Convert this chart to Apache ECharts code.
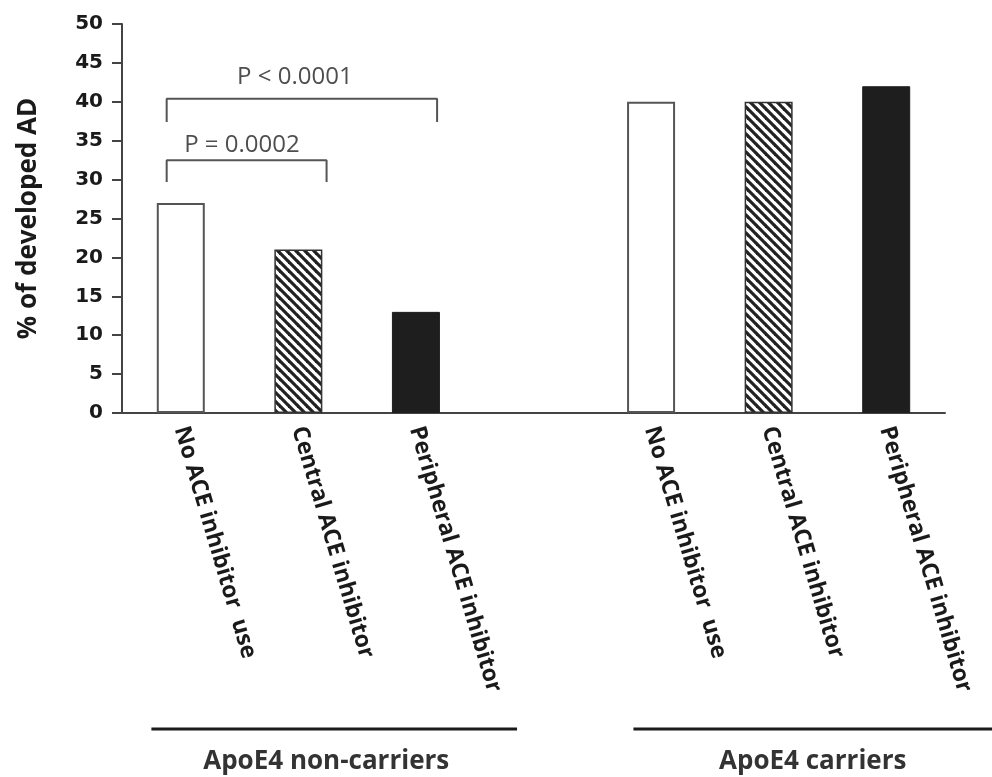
<!DOCTYPE html>
<html>
<head>
<meta charset="utf-8">
<script src="https://cdn.jsdelivr.net/npm/echarts@6/dist/echarts.min.js"></script>
<style>
  html, body { margin: 0; padding: 0; background: #fff; }
  #chart { width: 992px; height: 777px; }
</style>
</head>
<body>
<div id="chart"></div>
<script>
// categories (an empty slot separates the two ApoE4 groups)
const categories = [
  'No ACE inhibitor  use', 'Central ACE inhibitor', 'Peripheral ACE inhibitor',
  '',
  'No ACE inhibitor  use', 'Central ACE inhibitor', 'Peripheral ACE inhibitor'
]
const developedAD = [27, 21, 13, '-', 40, 40, 42]
const fillKind = ['open', 'hatch', 'solid', null, 'open', 'hatch', 'solid']
const yTicks = { min: 0, max: 50, interval: 5 }

// significance brackets: [from category, to category, bracket top, leg bottom]
const bracketLabels = ['P < 0.0001', 'P = 0.0002']
const brackets = [
  [-0.12, 2.18, 40.4, 37.4],
  [-0.12, 1.24, 32.5, 29.7]
]
const bracketTextPos = [[0.97, 43.2], [0.52, 34.4]]

const groupNames = ['ApoE4 non-carriers', 'ApoE4 carriers']
const groupSpans = [[-0.25, 2.86], [3.85, 6.9]]

function hatchPattern () {
  const c = document.createElement('canvas')
  c.width = 9
  c.height = 9
  const ctx = c.getContext('2d')
  ctx.fillStyle = '#fff'
  ctx.fillRect(0, 0, 9, 9)
  ctx.strokeStyle = '#222'
  ctx.lineWidth = 3.2
  for (const off of [-9, 0, 9]) {
    ctx.beginPath()
    ctx.moveTo(off - 1, -1)
    ctx.lineTo(off + 10, 10)
    ctx.stroke()
  }
  return c
}
const hatch = hatchPattern()

const styles = {
  open: { color: '#fff', borderColor: '#555', borderWidth: 2 },
  hatch: { color: { image: hatch, repeat: 'repeat' }, borderColor: '#333', borderWidth: 1.5 },
  solid: { color: '#1e1e1e', borderColor: '#1e1e1e', borderWidth: 1 }
}

const barData = developedAD.map((v, i) => ({
  value: v,
  itemStyle: fillKind[i] ? styles[fillKind[i]] : {}
}))

const bracketSeries = brackets.map(b => ({
  type: 'line',
  xAxisIndex: 1,
  silent: true,
  symbol: 'none',
  animation: false,
  lineStyle: { color: '#555', width: 2 },
  data: [[b[0], b[3]], [b[0], b[2]], [b[1], b[2]], [b[1], b[3]]]
}))

const chart = echarts.init(document.getElementById('chart'))
const option = {
  animation: false,
  backgroundColor: '#fff',
  grid: { left: 122, right: 47, top: 24, bottom: 364 },
  xAxis: [
    {
      type: 'category',
      data: categories,
      boundaryGap: true,
      axisLine: { lineStyle: { color: '#444', width: 2 } },
      axisTick: { show: false },
      axisLabel: {
        interval: 0,
        rotate: -73.5,
        margin: 14,
        color: '#1a1a1a',
        fontFamily: 'Open Sans',
        fontWeight: 'bold',
        fontSize: 23
      }
    },
    { type: 'value', min: -0.5, max: 6.5, show: false }
  ],
  yAxis: {
    type: 'value',
    min: yTicks.min,
    max: yTicks.max,
    interval: yTicks.interval,
    name: '% of developed AD',
    nameLocation: 'middle',
    nameGap: 80,
    nameTextStyle: {
      color: '#1a1a1a',
      fontFamily: 'Open Sans',
      fontWeight: 'bold',
      fontSize: 26
    },
    axisLine: { show: true, onZero: false, lineStyle: { color: '#444', width: 2 } },
    axisTick: { show: true, length: 10, lineStyle: { color: '#444', width: 2 } },
    axisLabel: {
      margin: 19,
      color: '#1a1a1a',
      fontFamily: 'DejaVu Sans',
      fontWeight: 'bold',
      fontSize: 20
    },
    splitLine: { show: false }
  },
  series: [
    {
      type: 'bar',
      barWidth: 48,
      data: barData
    },
    ...bracketSeries,
    {
      type: 'scatter',
      xAxisIndex: 1,
      symbolSize: 1,
      silent: true,
      itemStyle: { color: 'rgba(0,0,0,0)' },
      label: {
        show: true,
        position: 'inside',
        formatter: p => bracketLabels[p.dataIndex],
        color: '#222',
        fontFamily: 'Open Sans',
        fontSize: 24
      },
      data: bracketTextPos
    }
  ]
}
chart.setOption(option)

// group underlines and names below the rotated labels
const groupGraphics = []
groupNames.forEach((name, i) => {
  const x0 = chart.convertToPixel({ xAxisIndex: 1 }, groupSpans[i][0])
  const x1 = chart.convertToPixel({ xAxisIndex: 1 }, groupSpans[i][1])
  groupGraphics.push({
    type: 'line',
    shape: { x1: x0, y1: 729, x2: x1, y2: 729 },
    style: { stroke: '#1a1a1a', lineWidth: 3 }
  })
  groupGraphics.push({
    type: 'text',
    x: (x0 + x1) / 2 + (i === 0 ? -8 : 0),
    y: 762,
    style: {
      text: name,
      fill: '#333',
      font: 'bold 26px "Open Sans"',
      align: 'center',
      verticalAlign: 'middle'
    }
  })
})
chart.setOption({ graphic: groupGraphics })
</script>
</body>
</html>
